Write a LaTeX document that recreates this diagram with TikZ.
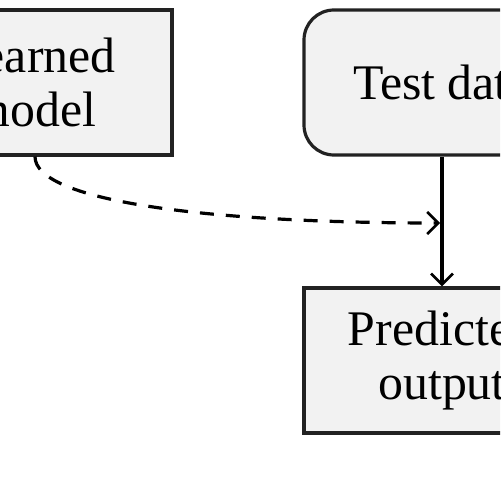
\documentclass[tikz,border=0pt]{standalone}
\usepackage{fontspec}
\setmainfont{Liberation Serif}
\usetikzlibrary{arrows.meta}
\definecolor{boxfill}{HTML}{F2F2F2}
\definecolor{boxline}{HTML}{222222}
\tikzset{
  box/.style={draw=boxline, fill=boxfill, line width=3.2bp, minimum width=276bp, minimum height=145bp,
    inner sep=0pt, align=center, font=\fontsize{50}{55}\selectfont},
  roundbox/.style={box, rounded corners=30bp},
  flow/.style={line width=3.2bp, draw=black, -{Straight Barb[length=11bp,width=22bp,line width=2.6bp]}},
  dflow/.style={flow, dash pattern=on 14bp off 12bp}
}
\begin{document}
\begin{tikzpicture}[x=1bp,y=-1bp]
\useasboundingbox (0,0) rectangle (500,500);
\clip (0,0) rectangle (500,500);
\fill[white] (0,0) rectangle (500,500);
\node[box] (model) at (34,82.5) {Learned\\model};
\node[roundbox] (test) at (442,82.5) {Test data};
\node[box] (pred) at (442,360.5) {Predicted\\output};
\draw[flow] (test.south) -- (pred.north);
\coordinate (hit) at (440,223);
\draw[dflow] (model.south -| 35,0) .. controls (35,200) and (200,223) .. (hit);
\end{tikzpicture}
\end{document}
